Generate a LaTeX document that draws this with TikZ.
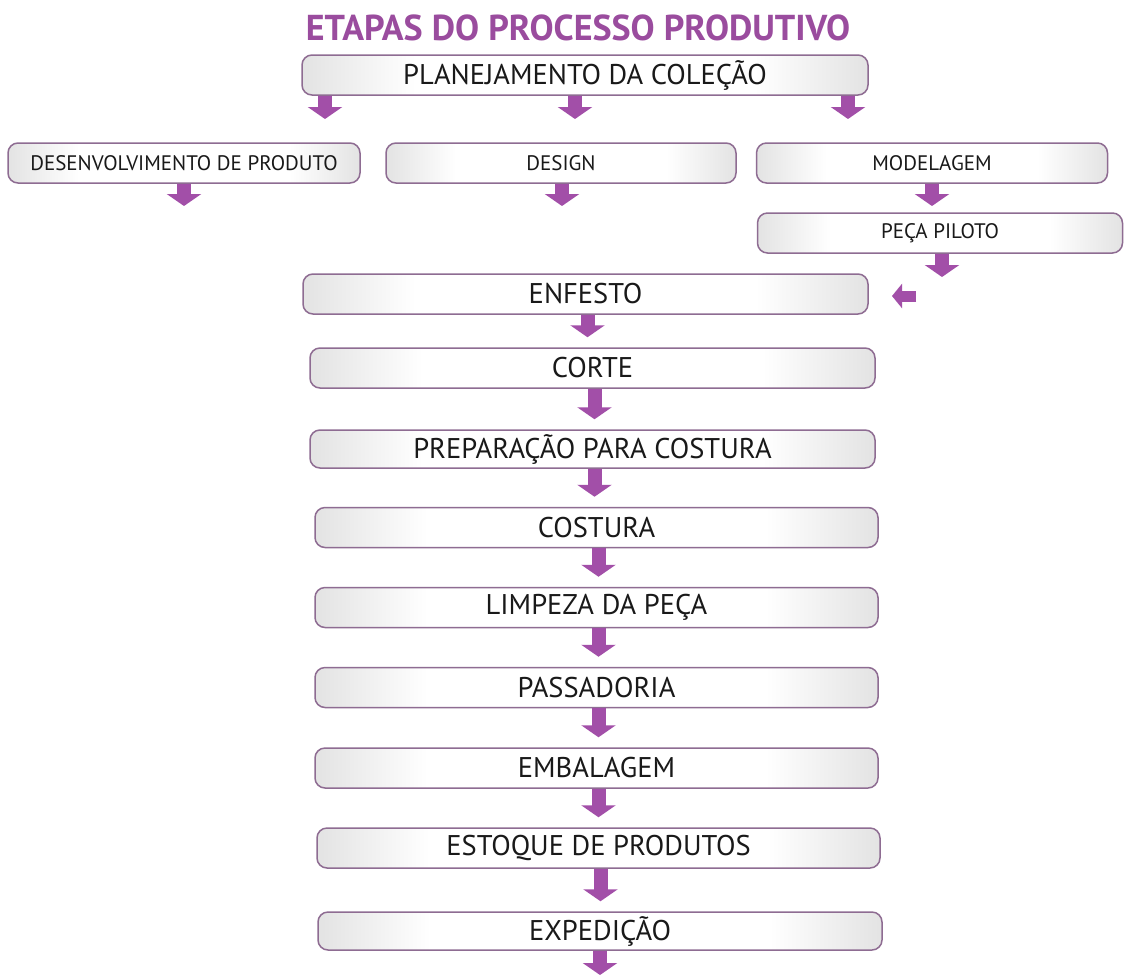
\documentclass[tikz,border=0pt]{standalone}
\usepackage{fontspec}
\setmainfont{PT Sans}
\usetikzlibrary{arrows.meta,calc}
\definecolor{titlepurple}{HTML}{9A4C9E}
\definecolor{arrowpurple}{HTML}{A24FA8}
\definecolor{boxline}{HTML}{8E6C92}
\definecolor{boxgray}{HTML}{E3E3E3}
% the box spans 25bp..75bp of the shading: grey at both ends, white in the middle
\pgfdeclarehorizontalshading{boxshade}{100bp}{%
  color(0bp)=(boxgray); color(25bp)=(boxgray); color(35bp)=(white);
  color(65bp)=(white); color(75bp)=(boxgray); color(100bp)=(boxgray)}
\tikzset{
  box/.style={draw=boxline, line width=1.5pt, rounded corners=10pt,
    shading=boxshade, minimum height=40pt, inner sep=0pt,
    text=black!90, font=\fontsize{28.5}{32}\selectfont},
  smallbox/.style={box, font=\fontsize{21}{24}\selectfont},
  flow/.style={draw=arrowpurple, line width=14pt,
    -{Triangle[width=34pt,length=12pt,fill=arrowpurple]}},
  sideflow/.style={draw=arrowpurple, line width=11pt,
    -{Triangle[width=24pt,length=10pt,fill=arrowpurple]}},
}
\begin{document}
\begin{tikzpicture}[x=1pt,y=-1pt]
\useasboundingbox (0,0) rectangle (1124,975);
\fill[white] (0,0) rectangle (1124,975);

% title
\node (title) at (578,28) {\fontsize{36}{42}\selectfont\bfseries\color{titlepurple}ETAPAS DO PROCESSO PRODUTIVO};

% planning and the three branches
\node[box, minimum width=566pt] (plan) at (585,75) {PLANEJAMENTO DA COLEÇÃO};
\node[smallbox, minimum width=352pt] (desenv) at (184,163) {DESENVOLVIMENTO DE PRODUTO};
\node[smallbox, minimum width=350pt] (design) at (561,163) {DESIGN};
\node[smallbox, minimum width=351pt] (model) at (932,163) {MODELAGEM};
\node[smallbox, minimum width=365pt] (peca) at (940,233) {PEÇA PILOTO};

% main production line
\node[box, minimum width=565pt] (enf) at (585.5,294) {ENFESTO};
\node[box, minimum width=565pt] (corte) at (592.5,368) {CORTE};
\node[box, minimum width=565pt, minimum height=38pt] (prep) at (592.5,449) {PREPARAÇÃO PARA COSTURA};
\node[box, minimum width=563pt] (cost) at (596.5,527.5) {COSTURA};
\node[box, minimum width=563pt] (limp) at (596.5,607.5) {LIMPEZA DA PEÇA};
\node[box, minimum width=563pt] (pass) at (596.5,687.5) {PASSADORIA};
\node[box, minimum width=563pt] (emb) at (596.5,768) {EMBALAGEM};
\node[box, minimum width=563pt] (est) at (598.5,848) {ESTOQUE DE PRODUTOS};
\node[box, minimum width=564pt, minimum height=38pt] (exp) at (600,931) {EXPEDIÇÃO};

% arrow ends
\coordinate (p1) at (325,96);   \coordinate (p1e) at (325,119);
\coordinate (p2) at (575,96);   \coordinate (p2e) at (575,119);
\coordinate (p3) at (848,96);   \coordinate (p3e) at (848,119);
\coordinate (d1e) at (184,206);
\coordinate (d2e) at (562,206);
\coordinate (d3e) at (932,206);
\coordinate (pe) at (942,277);
\coordinate (ls) at (916,296);  \coordinate (le) at (892,296);
\coordinate (expe) at (600,975);

% arrows
\draw[flow] (p1) -- (p1e);
\draw[flow] (p2) -- (p2e);
\draw[flow] (p3) -- (p3e);
\draw[flow] (desenv.south) -- (d1e);
\draw[flow] ($(design.south)+(1,0)$) -- (d2e);
\draw[flow] (model.south) -- (model.south |- d3e);
\draw[flow] ($(peca.south)+(2,0)$) -- (pe);
\draw[sideflow] (ls) -- (le);
\foreach \a/\b in {enf/corte, corte/prep, prep/cost, cost/limp, limp/pass, pass/emb, emb/est, est/exp}{
  \draw[flow] ($(\a.south)+(2,0)$) -- ($(\a.south |- \b.north)+(2,-10)$);
}
\draw[flow] (exp.south) -- (expe);
\end{tikzpicture}
\end{document}
